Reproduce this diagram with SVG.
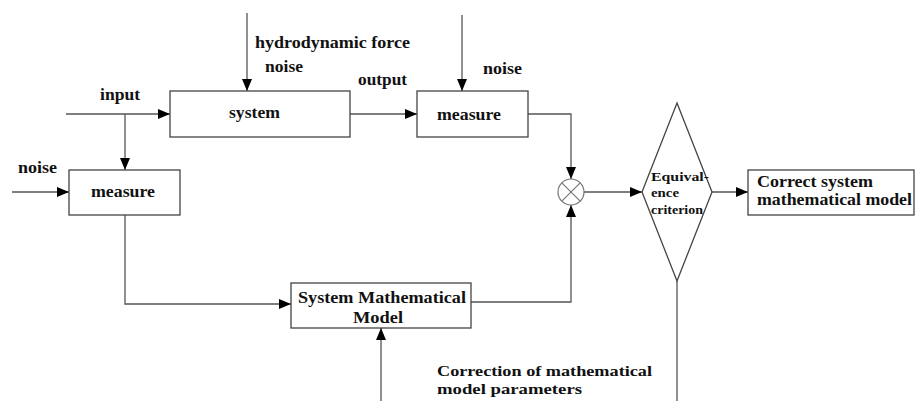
<svg xmlns="http://www.w3.org/2000/svg" width="916" height="401" viewBox="0 0 916 401">
<defs>
<marker id="ah" viewBox="0 0 12 10" refX="12" refY="5" markerWidth="12" markerHeight="10" markerUnits="userSpaceOnUse" orient="auto">
<path d="M0,0 L12,5 L0,10 Z" fill="#000"/>
</marker>
</defs>
<style>
.box{fill:#fff;stroke:#444;stroke-width:1.3}
.ln{fill:none;stroke:#555;stroke-width:1.3}
.ar{marker-end:url(#ah)}
.t{font-size:17px}
.c{font-size:15.5px}
.s{font-size:13.5px}
.m{text-anchor:middle}
</style>
<rect width="916" height="401" fill="#fff"/>
<g id="connectors">
<path class="ln ar" d="M247,13 V91"/>
<path class="ln ar" d="M66,114 H170"/>
<path class="ln ar" d="M125,114 V170"/>
<path class="ln ar" d="M12,192 H69"/>
<path class="ln ar" d="M350,114 H417"/>
<path class="ln ar" d="M462,15 V91"/>
<path class="ln ar" d="M528,114 H571 V179"/>
<path class="ln ar" d="M125,215 V304 H291"/>
<path class="ln ar" d="M471,302 H571 V205"/>
<path class="ln ar" d="M584,192 H642"/>
<path class="ln ar" d="M712,192 H748"/>
<path class="ln" d="M677,281 V401"/>
<path class="ln ar" d="M381,401 V328"/>
</g>
<g font-family="Liberation Serif, Times New Roman, serif" font-weight="bold" fill="#111">
<g id="labels">
<text class="t" x="255" y="48" textLength="155" lengthAdjust="spacingAndGlyphs">hydrodynamic force</text>
<text class="t" x="265" y="72" textLength="38" lengthAdjust="spacingAndGlyphs">noise</text>
<text class="t" x="358" y="85" textLength="49" lengthAdjust="spacingAndGlyphs">output</text>
<text class="t" x="100" y="100" textLength="40" lengthAdjust="spacingAndGlyphs">input</text>
<text class="t" x="18" y="173" textLength="39" lengthAdjust="spacingAndGlyphs">noise</text>
<text class="t" x="483" y="74" textLength="39" lengthAdjust="spacingAndGlyphs">noise</text>
<text class="c" x="437" y="376" textLength="215" lengthAdjust="spacingAndGlyphs">Correction of mathematical</text>
<text class="c" x="437" y="394" textLength="145" lengthAdjust="spacingAndGlyphs">model parameters</text>
</g>
<g id="system">
<rect class="box" x="170" y="91" width="180" height="46"/>
<text class="t" x="229" y="118" textLength="51" lengthAdjust="spacingAndGlyphs">system</text>
</g>
<g id="measure-output">
<rect class="box" x="417" y="91" width="111" height="46"/>
<text class="t" x="437" y="120" textLength="64" lengthAdjust="spacingAndGlyphs">measure</text>
</g>
<g id="measure-input">
<rect class="box" x="69" y="170" width="111" height="45"/>
<text class="t" x="91" y="197" textLength="64" lengthAdjust="spacingAndGlyphs">measure</text>
</g>
<g id="model">
<rect class="box" x="291" y="283" width="180" height="45"/>
<text class="t" x="298" y="303" textLength="168" lengthAdjust="spacingAndGlyphs">System Mathematical</text>
<text class="t" x="353" y="323" textLength="50" lengthAdjust="spacingAndGlyphs">Model</text>
</g>
<g id="sum">
<circle cx="571" cy="192" r="13" fill="#fff" stroke="#777" stroke-width="1.2"/>
<path d="M561.8,182.8 L580.2,201.2 M580.2,182.8 L561.8,201.2" stroke="#777" stroke-width="1.2"/>
</g>
<g id="criterion">
<polygon class="box" points="677,103 712,192 677,281 642,192"/>
<text class="s" x="651" y="181" textLength="58" lengthAdjust="spacingAndGlyphs">Equival-</text>
<text class="s" x="651" y="197" textLength="28" lengthAdjust="spacingAndGlyphs">ence</text>
<text class="s" x="651" y="214" textLength="52" lengthAdjust="spacingAndGlyphs">criterion</text>
</g>
<g id="correct-model">
<rect class="box" x="748" y="170" width="166" height="45"/>
<text class="t" x="757" y="187" textLength="116" lengthAdjust="spacingAndGlyphs">Correct system</text>
<text class="t" x="757" y="205" textLength="155" lengthAdjust="spacingAndGlyphs">mathematical model</text>
</g>
</g>
</svg>
